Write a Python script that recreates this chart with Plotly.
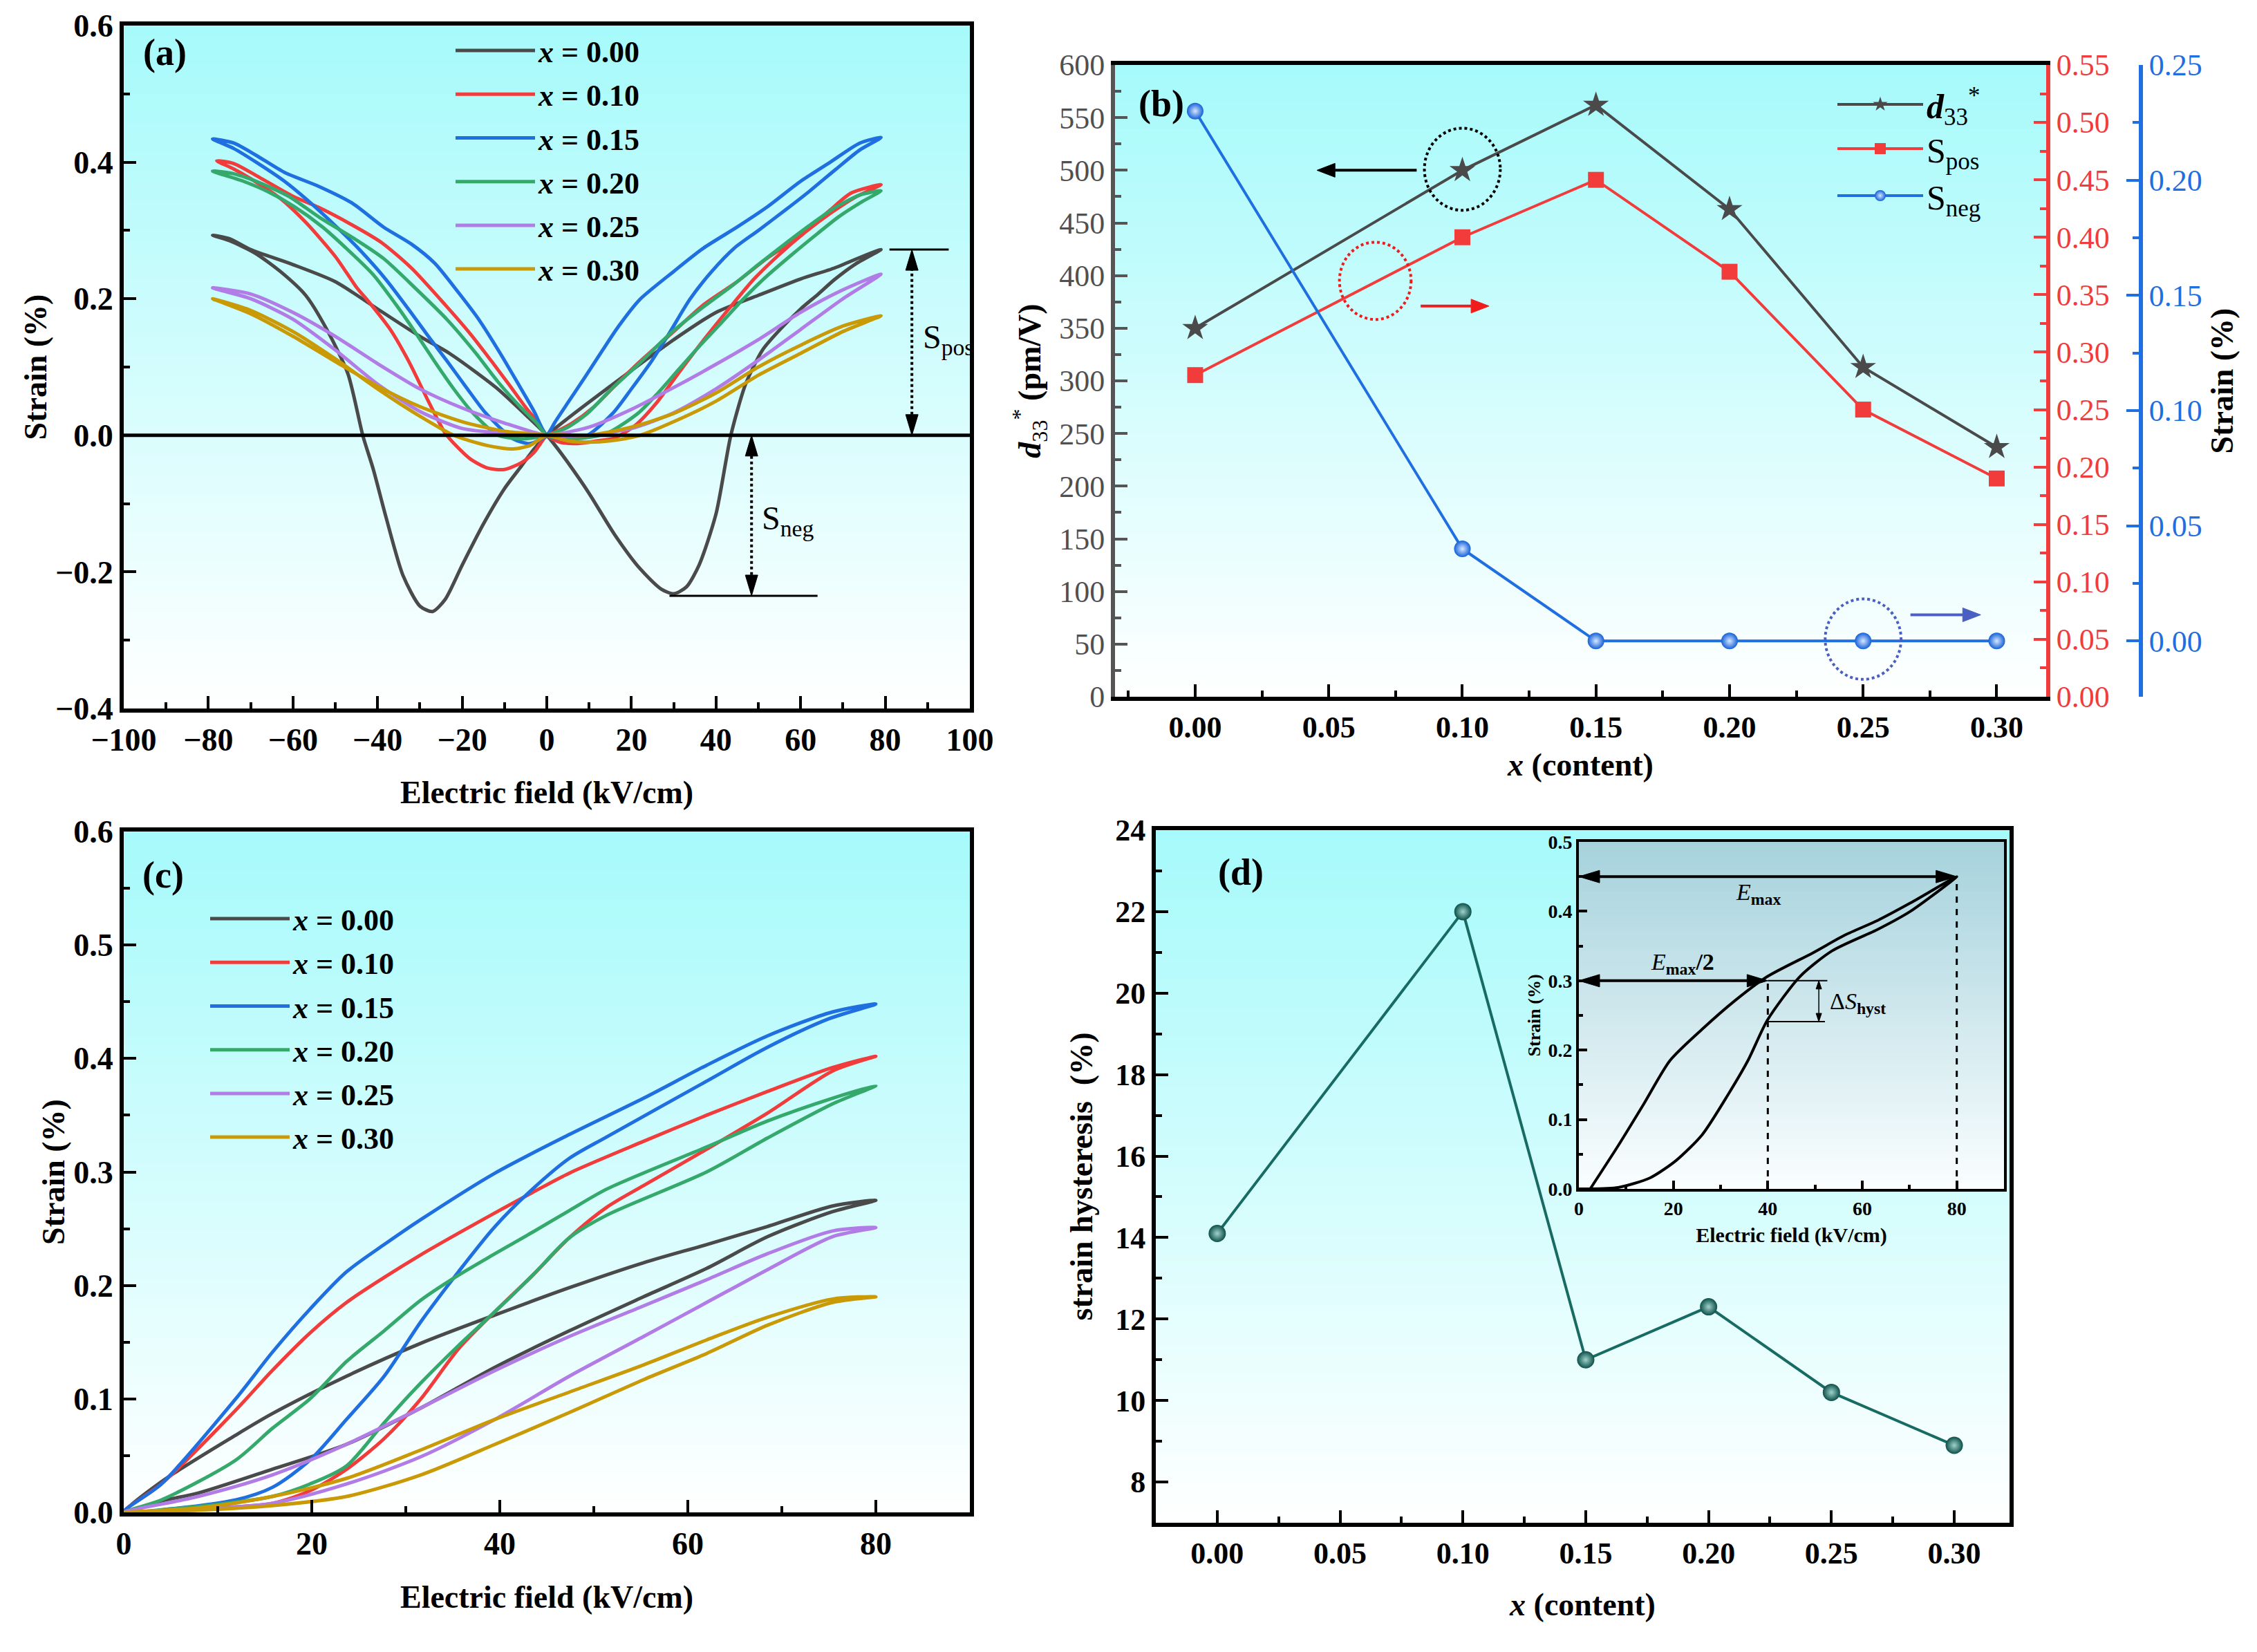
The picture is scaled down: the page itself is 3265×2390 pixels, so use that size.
import math
import plotly.graph_objects as go

W, H = 3265, 2390
FONT = "Liberation Serif"

# ---------------- data ----------------
NAMES = ["<i>x</i> = 0.00", "<i>x</i> = 0.10", "<i>x</i> = 0.15",
         "<i>x</i> = 0.20", "<i>x</i> = 0.25", "<i>x</i> = 0.30"]
COLORS = ["#4a4a4a", "#f23c3c", "#1f6fe0", "#35a96b", "#b27ce6", "#c99a06"]

# (a) bipolar butterfly loops: 0 -> +80 -> 0 -> -80 -> 0
E_A_000 = [0, 2, 5, 10, 16, 22, 27, 30, 33, 36, 40, 43.5, 47, 51, 55, 60, 64, 68, 73, 79,
           75, 68, 60, 50, 40, 30, 20, 12, 5, 0,
           -3, -6, -10, -15, -20, -24, -27, -30, -34, -38, -41, -43.5, -47, -52, -57, -63, -69, -75, -79,
           -75, -70, -60, -50, -40, -30, -23, -12, -5, 0]
S_A_000 = [0, -0.015, -0.04, -0.085, -0.145, -0.195, -0.225, -0.232, -0.222, -0.19, -0.115, 0.0, 0.075, 0.125, 0.154, 0.185, 0.206, 0.228, 0.251, 0.272,
           0.263, 0.245, 0.229, 0.205, 0.18, 0.14, 0.095, 0.058, 0.025, 0.0,
           -0.02, -0.045, -0.078, -0.13, -0.19, -0.24, -0.258, -0.25, -0.205, -0.12, -0.05, 0.0, 0.09, 0.155, 0.205, 0.24, 0.267, 0.285, 0.293,
           0.288, 0.272, 0.25, 0.225, 0.185, 0.145, 0.12, 0.07, 0.03, 0.0]

E_A_010 = [0, 3, 7, 12, 16, 21, 26, 31, 37, 43, 49, 55, 61, 67, 73, 79,
           72, 67, 60, 52, 45, 37, 30, 22, 16, 11, 6, 2, 0,
           -3, -6, -10, -14, -18, -21, -24, -28, -32.6, -37, -42, -45, -50, -57, -63, -69, -74, -78,
           -74, -68, -60, -54, -46, -39, -32, -24, -18, -13, -9, -5, -2, 0]
S_A_010 = [0, -0.01, -0.012, -0.008, -0.004, 0.015, 0.048, 0.09, 0.139, 0.185, 0.229, 0.265, 0.297, 0.325, 0.349, 0.367,
           0.355, 0.33, 0.292, 0.259, 0.225, 0.191, 0.152, 0.108, 0.072, 0.041, 0.018, 0.005, 0,
           -0.025, -0.04, -0.05, -0.048, -0.035, -0.018, 0.003, 0.05, 0.108, 0.155, 0.195, 0.217, 0.262, 0.312, 0.347, 0.372, 0.39, 0.402,
           0.398, 0.378, 0.35, 0.334, 0.308, 0.282, 0.245, 0.191, 0.148, 0.108, 0.075, 0.041, 0.018, 0]

E_A_015 = [0, 3.6, 9.6, 15.7, 20, 24.7, 29, 33.8, 39, 44.3, 50, 56.4, 62, 68.4, 74, 79,
           74, 67, 60, 52, 45, 37, 30, 22, 17, 13, 9, 5, 2, 0,
           -4, -8, -14.5, -19, -23.5, -28, -32.6, -38, -44.6, -50, -56.7, -62, -68.7, -74, -79,
           -74, -68.7, -62, -53.7, -46, -38.6, -32, -26.5, -21, -16, -11, -7, -3, 0]
S_A_015 = [0, -0.005, 0, 0.033, 0.068, 0.108, 0.15, 0.199, 0.24, 0.274, 0.3, 0.33, 0.357, 0.39, 0.418, 0.436,
           0.428, 0.4, 0.372, 0.334, 0.305, 0.274, 0.24, 0.199, 0.16, 0.123, 0.085, 0.048, 0.02, 0,
           -0.012, -0.005, 0.033, 0.07, 0.108, 0.145, 0.184, 0.228, 0.274, 0.307, 0.345, 0.372, 0.4, 0.42, 0.434,
           0.428, 0.41, 0.385, 0.364, 0.34, 0.305, 0.28, 0.252, 0.21, 0.169, 0.12, 0.078, 0.035, 0]

E_A_020 = [0, 6.6, 14.2, 21.7, 26, 30.7, 36, 41.3, 46.5, 51.8, 58, 63.9, 69, 74.5, 79,
           74, 68, 62, 56, 50, 44, 37, 29, 22, 15, 9.6, 5, 0,
           -5.4, -11.5, -17.5, -22, -26.5, -31, -35.6, -41, -47.6, -53, -59.7, -66, -71.7, -79,
           -74, -68.7, -61, -53.7, -46, -38.6, -31, -23.5, -17, -11.5, -6, -2.4, 0]
S_A_020 = [0, -0.005, 0.003, 0.033, 0.06, 0.093, 0.13, 0.165, 0.2, 0.232, 0.265, 0.295, 0.32, 0.342, 0.358,
           0.352, 0.333, 0.307, 0.279, 0.25, 0.22, 0.188, 0.148, 0.106, 0.066, 0.032, 0.012, 0,
           -0.005, 0, 0.033, 0.068, 0.108, 0.15, 0.191, 0.235, 0.275, 0.305, 0.335, 0.357, 0.372, 0.387,
           0.383, 0.372, 0.35, 0.319, 0.29, 0.259, 0.215, 0.169, 0.122, 0.078, 0.04, 0.018, 0]

E_A_025 = [0, 10, 20, 30, 40, 50, 60, 70, 79,
           70, 60, 50, 40, 30, 20, 10, 0,
           -10, -20, -30, -40, -50, -60, -70, -79,
           -70, -60, -50, -40, -30, -20, -10, 0]
S_A_025 = [0, 0.0, 0.01, 0.033, 0.068, 0.11, 0.155, 0.2, 0.236,
           0.213, 0.18, 0.14, 0.104, 0.07, 0.038, 0.012, 0,
           0.003, 0.01, 0.035, 0.075, 0.125, 0.17, 0.2, 0.216,
           0.207, 0.18, 0.145, 0.105, 0.068, 0.04, 0.018, 0]

E_A_030 = [0, 5, 10, 15, 22, 30, 40, 50, 60, 70, 79,
           70, 60, 50, 40, 30, 20, 10, 0,
           -4, -8, -14, -22, -30, -40, -50, -60, -70, -79,
           -70, -60, -50, -40, -30, -20, -10, 0]
S_A_030 = [0, -0.008, -0.01, -0.008, 0.0, 0.02, 0.05, 0.088, 0.12, 0.152, 0.175,
           0.16, 0.132, 0.1, 0.062, 0.032, 0.012, 0.0, 0,
           -0.015, -0.02, -0.015, 0.0, 0.028, 0.068, 0.112, 0.152, 0.183, 0.2,
           0.178, 0.145, 0.108, 0.072, 0.042, 0.02, 0.006, 0]

# (c) unipolar loops: 0 -> 80 -> 0
E_C_000 = [0, 4, 7.9, 15.8, 23.7, 31.6, 39.5, 47.4, 55.3, 62, 68.5, 75.4, 80,
           75.4, 68.5, 62, 55.3, 47.4, 39.5, 31.6, 23.7, 15.8, 11.9, 4, 0]
S_C_000 = [0, 0.01, 0.017, 0.038, 0.06, 0.092, 0.128, 0.16, 0.19, 0.215, 0.243, 0.265, 0.275,
           0.27, 0.252, 0.236, 0.22, 0.198, 0.174, 0.149, 0.12, 0.087, 0.068, 0.027, 0]
E_C_010 = [0, 5, 10, 15.8, 19.8, 23.7, 27.7, 31.6, 35.6, 39.5, 43.5, 47.4, 51.4, 55.3, 62, 68.5, 75.4, 80,
           75.4, 68.5, 62, 55.3, 47.4, 43.5, 39.5, 35.6, 31.6, 27.7, 23.7, 19.8, 15.8, 11.9, 4, 0]
S_C_010 = [0, 0.002, 0.004, 0.008, 0.019, 0.038, 0.065, 0.1, 0.144, 0.177, 0.209, 0.242, 0.269, 0.288, 0.32, 0.352, 0.389, 0.402,
           0.392, 0.371, 0.35, 0.327, 0.299, 0.282, 0.264, 0.246, 0.227, 0.207, 0.185, 0.158, 0.125, 0.09, 0.025, 0]
E_C_015 = [0, 5, 11.9, 15.8, 19.8, 23.7, 27.7, 31.6, 35.6, 39.5, 43.5, 47.4, 51.4, 62, 68.5, 75, 80,
           75.4, 68.5, 62, 55.3, 47.4, 39.5, 31.6, 27.7, 23.7, 19.8, 15.8, 11.9, 4, 0]
S_C_015 = [0, 0.003, 0.011, 0.022, 0.046, 0.082, 0.12, 0.168, 0.212, 0.252, 0.285, 0.312, 0.331, 0.38, 0.41, 0.435, 0.448,
           0.441, 0.42, 0.394, 0.365, 0.333, 0.299, 0.258, 0.236, 0.212, 0.179, 0.141, 0.1, 0.025, 0]
E_C_020 = [0, 5, 10, 15.8, 19.8, 23.7, 27.7, 31.6, 35.6, 39.5, 43.5, 47.4, 51.4, 62, 68.5, 75.4, 80,
           75.4, 68.5, 62, 51.4, 47.4, 43.5, 39.5, 35.6, 31.6, 27.7, 23.7, 19.8, 15.8, 11.9, 4, 0]
S_C_020 = [0, 0.003, 0.007, 0.014, 0.025, 0.041, 0.079, 0.114, 0.147, 0.177, 0.209, 0.242, 0.262, 0.3, 0.33, 0.36, 0.376,
           0.365, 0.345, 0.322, 0.285, 0.266, 0.247, 0.228, 0.209, 0.187, 0.16, 0.133, 0.1, 0.074, 0.046, 0.011, 0]
E_C_025 = [0, 8, 15.8, 23.7, 31.6, 39.5, 47.4, 55.3, 62, 68.5, 75.4, 80,
           75.4, 68.5, 62, 55.3, 47.4, 39.5, 31.6, 23.7, 15.8, 7.9, 0]
S_C_025 = [0, 0.003, 0.008, 0.025, 0.049, 0.082, 0.12, 0.155, 0.185, 0.214, 0.243, 0.251,
           0.248, 0.228, 0.205, 0.182, 0.155, 0.125, 0.092, 0.06, 0.033, 0.014, 0]
E_C_030 = [0, 8, 15.8, 23.7, 31.6, 39.5, 47.4, 55.3, 62, 68.5, 75.4, 80,
           75.4, 68.5, 62, 55.3, 47.4, 39.5, 31.6, 23.7, 15.8, 8, 0]
S_C_030 = [0, 0.002, 0.006, 0.014, 0.033, 0.06, 0.088, 0.117, 0.14, 0.165, 0.185, 0.19,
           0.188, 0.172, 0.152, 0.13, 0.106, 0.082, 0.055, 0.03, 0.014, 0.004, 0]

# (b) composition dependence
X_CONTENT = [0.00, 0.10, 0.15, 0.20, 0.25, 0.30]
D33 = [350, 500, 562, 463, 313, 237]
S_POS = [0.28, 0.40, 0.45, 0.37, 0.25, 0.19]
S_NEG = [0.23, 0.04, 0.0, 0.0, 0.0, 0.0]

# (d) strain hysteresis
HYST = [14.1, 22.0, 11.0, 12.3, 10.2, 8.9]

# (d) inset schematic loop
E_INSET = [0, 1.4, 8.3, 15.1, 20.6, 26.1, 31.6, 35.8, 39.9, 46.8, 53.6, 63.3, 70.2, 80,
           70.2, 63.3, 56.4, 49.5, 39.9, 33, 26.1, 19.3, 13.8, 8.3, 2.4]
S_INSET = [0, 0, 0.002, 0.016, 0.041, 0.078, 0.136, 0.185, 0.243, 0.306, 0.343, 0.374, 0.4, 0.45,
           0.412, 0.387, 0.366, 0.34, 0.306, 0.271, 0.23, 0.185, 0.123, 0.062, 0]

A_E = [E_A_000, E_A_010, E_A_015, E_A_020, E_A_025, E_A_030]
A_S = [S_A_000, S_A_010, S_A_015, S_A_020, S_A_025, S_A_030]
C_E = [E_C_000, E_C_010, E_C_015, E_C_020, E_C_025, E_C_030]
C_S = [S_C_000, S_C_010, S_C_015, S_C_020, S_C_025, S_C_030]

# ---------------- layout geometry (pixels) ----------------
A_PX, A_PY = (179, 1403), (37, 1025)
B_PX, B_PY = (1613, 2960), (94, 1008)
B_BLUE_PX = 3097
C_PX, C_PY = (179, 1403), (1203, 2188)
D_PX, D_PY = (1672, 2907), (1201, 2203)
I_PX, I_PY = (2284, 2899), (1218, 1720)

A_XR, A_YR = [-100, 100], [-0.4, 0.6]
B_XR, B_YR = [-0.03, 0.3185], [0, 600]
C_XR, C_YR = [0, 90], [0, 0.6]
D_XR, D_YR = [-0.025, 0.3225], [7, 24]
I_XR, I_YR = [0, 90], [0, 0.5]


def dx(p):
    return [p[0] / W, p[1] / W]


def dy(p):
    return [1 - p[1] / H, 1 - p[0] / H]


# pixel scale of each subplot (px per data unit) for drawing arrow heads
SCALE = {
    ("x", "y"): ((A_PX[1] - A_PX[0]) / (A_XR[1] - A_XR[0]), (A_PY[1] - A_PY[0]) / (A_YR[1] - A_YR[0])),
    ("x2", "y2"): ((B_PX[1] - B_PX[0]) / (B_XR[1] - B_XR[0]), (B_PY[1] - B_PY[0]) / (B_YR[1] - B_YR[0])),
    ("x5", "y7"): ((I_PX[1] - I_PX[0]) / (I_XR[1] - I_XR[0]), (I_PY[1] - I_PY[0]) / (I_YR[1] - I_YR[0])),
}

fig = go.Figure()

for i in range(6):
    fig.add_trace(go.Scatter(x=A_E[i], y=A_S[i], mode="lines", name=NAMES[i],
                             line=dict(color=COLORS[i], width=5, shape="spline", smoothing=0.7),
                             xaxis="x", yaxis="y", legend="legend", legendgroup="a%d" % i))
for i in range(6):
    fig.add_trace(go.Scatter(x=C_E[i], y=C_S[i], mode="lines", name=NAMES[i],
                             line=dict(color=COLORS[i], width=5, shape="spline", smoothing=0.8),
                             xaxis="x3", yaxis="y5", legend="legend3", legendgroup="c%d" % i))

# (b)
fig.add_trace(go.Scatter(x=X_CONTENT, y=S_NEG, mode="lines+markers",
                         name="S<sub>neg</sub>", legendrank=3,
                         line=dict(color="#1f6fe0", width=4),
                         marker=dict(symbol="circle", size=24, color="#1560d8",
                                     gradient=dict(type="radial", color="#d6e8ff"),
                                     line=dict(width=0)),
                         xaxis="x2", yaxis="y4", legend="legend4", legendgroup="b3"))
fig.add_trace(go.Scatter(x=X_CONTENT, y=S_POS, mode="lines+markers",
                         name="S<sub>pos</sub>", legendrank=2,
                         line=dict(color="#f23c3c", width=4),
                         marker=dict(symbol="square", size=23, color="#f23c3c", line=dict(width=0)),
                         xaxis="x2", yaxis="y3", legend="legend4", legendgroup="b2"))
fig.add_trace(go.Scatter(x=X_CONTENT, y=D33, mode="lines+markers",
                         name="<b><i>d</i></b><sub>33</sub><sup>*</sup>", legendrank=1,
                         line=dict(color="#4a4a4a", width=4),
                         marker=dict(symbol="star", size=28, color="#4a4a4a", line=dict(width=0)),
                         xaxis="x2", yaxis="y2", legend="legend2", legendgroup="b1"))

# (d)
fig.add_trace(go.Scatter(x=X_CONTENT, y=HYST, mode="lines+markers", name="strain hysteresis",
                         line=dict(color="#176b63", width=4),
                         marker=dict(symbol="circle", size=25, color="#0c4f49",
                                     gradient=dict(type="radial", color="#9fd3cb"),
                                     line=dict(width=0)),
                         xaxis="x4", yaxis="y6", showlegend=False))
# inset
fig.add_trace(go.Scatter(x=E_INSET, y=S_INSET, mode="lines", name="schematic",
                         line=dict(color="black", width=4, shape="spline", smoothing=0.7),
                         xaxis="x5", yaxis="y7", showlegend=False))


def tfont(size=44, color="black", bold=True):
    return dict(family=FONT, size=size, color=color, weight="bold" if bold else "normal")


def axis(domain, rng, dtick, minor_dtick, anchor, fmt=None, size=46, color="black",
         linecolor="black", lw=6, mirror=True, bold=True, ticklen=18, **kw):
    d = dict(domain=domain, range=rng, dtick=dtick, tick0=0, anchor=anchor, automargin=False,
             showline=True, linecolor=linecolor, linewidth=lw, mirror=mirror,
             ticks="inside", ticklen=ticklen, tickwidth=4, tickcolor=linecolor,
             showgrid=False, zeroline=False, tickfont=tfont(size, color, bold),
             minor=dict(ticks="inside", ticklen=ticklen // 2, tickwidth=4, tickcolor=linecolor,
                        dtick=minor_dtick, tick0=0, showgrid=False))
    if fmt:
        d["tickformat"] = fmt
    d.update(kw)
    return d


def title(text, size=46, standoff=10):
    return dict(text=text, font=dict(family=FONT, size=size, color="black"), standoff=standoff)


def legend_box(xp, yp, size, bold, itemwidth, gap=3):
    return dict(x=xp / W, y=1 - yp / H, xanchor="left", yanchor="top",
                bgcolor="rgba(0,0,0,0)", borderwidth=0, font=tfont(size, bold=bold),
                itemwidth=itemwidth, tracegroupgap=gap, traceorder="grouped")


fig.update_layout(
    width=W, height=H, margin=dict(l=0, r=0, t=0, b=0, autoexpand=False),
    paper_bgcolor="white", plot_bgcolor="rgba(0,0,0,0)",
    font=dict(family=FONT, color="black"),
    # (a)
    xaxis=axis(dx(A_PX), A_XR, 20, 10, "y",
               title=title("<b>Electric field (kV/cm)</b>", standoff=37)),
    yaxis=axis(dy(A_PY), A_YR, 0.2, 0.1, "x", fmt=".1f",
               title=title("<b>Strain (%)</b>", standoff=0)),
    # (b)
    xaxis2=axis(dx(B_PX), B_XR, 0.05, 0.025, "y2", fmt=".2f", size=44,
                title=title("<b><i>x</i> (content)</b>", standoff=16)),
    yaxis2=axis(dy(B_PY), B_YR, 50, 25, "x2", size=44, color="#505050", linecolor="#555555",
                lw=6, mirror=False, bold=False,
                title=title("<b><i>d</i></b><sub>33</sub><sup>*</sup><b> (pm/V)</b>", standoff=14)),
    yaxis3=axis(dy(B_PY), [0, 0.55], 0.05, 0.025, "x2", fmt=".2f", size=44, color="#f03c3c",
                linecolor="#f03c3c", lw=6, mirror=False, bold=False,
                overlaying="y2", side="right"),
    yaxis4=axis(dy(B_PY), [-0.0242, 0.25], 0.05, 0.025, "free", fmt=".2f", size=44, color="#1f6fe0",
                linecolor="#1f6fe0", lw=6, mirror=False, bold=False,
                overlaying="y2", side="right", position=B_BLUE_PX / W,
                title=title("<b>Strain (%)</b>", standoff=12)),
    # (c)
    xaxis3=axis(dx(C_PX), C_XR, 20, 10, "y5",
                title=title("<b>Electric field (kV/cm)</b>", standoff=38)),
    yaxis5=axis(dy(C_PY), C_YR, 0.1, 0.05, "x3", fmt=".1f",
                title=title("<b>Strain (%)</b>", standoff=0)),
    # (d)
    xaxis4=axis(dx(D_PX), D_XR, 0.05, 0.025, "y6", fmt=".2f", size=44,
                title=title("<b><i>x</i> (content)</b>", standoff=36)),
    yaxis6=axis(dy(D_PY), D_YR, 2, 1, "x4", size=44,
                title=title("<b>strain hysteresis  (%)</b>", standoff=20)),
    # inset
    xaxis5=axis(dx(I_PX), I_XR, 20, 10, "y7", size=28, lw=4, ticklen=12,
                title=title("<b>Electric field (kV/cm)</b>", size=30, standoff=14)),
    yaxis7=axis(dy(I_PY), I_YR, 0.1, 0.05, "x5", fmt=".1f", size=28, lw=4, ticklen=12,
                title=title("<b>Strain (%)</b>", size=26, standoff=4)),
    legend=legend_box(654, 38, 44, True, 115),
    legend2=legend_box(2653, 112, 50, False, 124, gap=0),
    legend4=legend_box(2653, 176, 50, False, 124, gap=0),
    legend3=legend_box(299, 1294, 44, True, 115),
)

# ---------------- gradient backgrounds ----------------
shapes = []


def gradient(xref, yref, xr, yr, top, bottom, n=70):
    span = yr[1] - yr[0]
    for k in range(n):
        t0, t1 = k / n, (k + 1) / n
        tm = (t0 + t1) / 2
        c = tuple(round(top[j] + (bottom[j] - top[j]) * tm) for j in range(3))
        shapes.append(dict(type="rect", xref=xref, yref=yref, x0=xr[0], x1=xr[1],
                           y1=yr[1] - span * t0, y0=yr[1] - span * t1 - span * 0.004,
                           fillcolor="rgb(%d,%d,%d)" % c, line=dict(width=0), layer="below"))


CYAN = (166, 250, 251)
WHITE = (255, 255, 255)
gradient("x", "y", A_XR, A_YR, CYAN, WHITE)
gradient("x2", "y2", B_XR, B_YR, CYAN, WHITE)
gradient("x3", "y5", C_XR, C_YR, CYAN, WHITE)
gradient("x4", "y6", D_XR, D_YR, CYAN, WHITE)
gradient("x5", "y7", I_XR, I_YR, (166, 210, 220), (250, 254, 255))


def line(xref, yref, x0, y0, x1, y1, color="black", width=3, dash=None, layer="above"):
    ln = dict(color=color, width=width)
    if dash:
        ln["dash"] = dash
    shapes.append(dict(type="line", xref=xref, yref=yref, x0=x0, y0=y0, x1=x1, y1=y1,
                       line=ln, layer=layer))


def head(xref, yref, tip, frm, length, half_w, color):
    sx, sy = SCALE[(xref, yref)]
    px = (tip[0] - frm[0]) * sx
    py = (tip[1] - frm[1]) * sy
    L = math.hypot(px, py)
    ux, uy = px / L, py / L
    bx, by = -ux * length, -uy * length
    p1 = (tip[0] + (bx - uy * half_w) / sx, tip[1] + (by + ux * half_w) / sy)
    p2 = (tip[0] + (bx + uy * half_w) / sx, tip[1] + (by - ux * half_w) / sy)
    shapes.append(dict(type="path", xref=xref, yref=yref,
                       path="M %.6f,%.6f L %.6f,%.6f L %.6f,%.6f Z" % (tip[0], tip[1], p1[0], p1[1], p2[0], p2[1]),
                       fillcolor=color, line=dict(color=color, width=1), layer="above"))
    return (tip[0] + bx / sx, tip[1] + by / sy)


def arrow(xref, yref, start, end, color="black", width=4, length=28, half_w=10,
          dash=None, both=False):
    e = head(xref, yref, end, start, length, half_w, color)
    s = head(xref, yref, start, end, length, half_w, color) if both else start
    line(xref, yref, s[0], s[1], e[0], e[1], color=color, width=width, dash=dash)


# (a) decorations
line("x domain", "y", 0, 0, 1, 0, width=5)
line("x", "y", 81, 0.272, 95, 0.272, width=3)
line("x", "y", 29, -0.235, 64, -0.235, width=3)
arrow("x", "y", (86.3, 0.0), (86.3, 0.272), width=4, length=30, half_w=9, dash="dot", both=True)
arrow("x", "y", (48.4, 0.0), (48.4, -0.235), width=4, length=30, half_w=9, dash="dot", both=True)
# (b) decorations
shapes.append(dict(type="circle", xref="x2", yref="y2", x0=0.1 - 0.0142, x1=0.1 + 0.0142,
                   y0=501 - 39, y1=501 + 39, line=dict(color="black", width=4, dash="dot")))
shapes.append(dict(type="circle", xref="x2", yref="y2", x0=0.0674 - 0.0134, x1=0.0674 + 0.0134,
                   y0=395 - 36.7, y1=395 + 36.7, line=dict(color="#f01c1c", width=4, dash="dot")))
shapes.append(dict(type="circle", xref="x2", yref="y2", x0=0.25 - 0.0142, x1=0.25 + 0.0142,
                   y0=54.7 - 38.2, y1=54.7 + 38.2, line=dict(color="#4a5fc1", width=4, dash="dot")))
arrow("x2", "y2", (0.0829, 500), (0.0456, 500), width=4, length=26, half_w=10)
arrow("x2", "y2", (0.0844, 371), (0.110, 371), color="#f01c1c", width=4, length=26, half_w=10)
arrow("x2", "y2", (0.2677, 77.8), (0.294, 77.8), color="#4a5fc1", width=4, length=26, half_w=10)
# inset decorations
line("x5", "y7", 40, 0, 40, 0.3, width=3, dash="dash")
line("x5", "y7", 80, 0, 80, 0.45, width=3, dash="dash")
line("x5", "y7", 40, 0.3, 52.6, 0.3, width=2)
line("x5", "y7", 40, 0.241, 52.1, 0.241, width=2)
arrow("x5", "y7", (0, 0.45), (80, 0.45), width=4, length=30, half_w=9, both=True)
arrow("x5", "y7", (0, 0.3), (40, 0.3), width=4, length=30, half_w=9, both=True)
arrow("x5", "y7", (50.8, 0.241), (50.8, 0.3), width=1.5, length=12, half_w=4, both=True)

fig.update_layout(shapes=shapes)

# ---------------- annotations ----------------
ann = []


def label(text, xp, yp, size=54):
    ann.append(dict(text=text, x=xp / W, y=1 - yp / H, xref="paper", yref="paper",
                    showarrow=False, xanchor="center", yanchor="middle",
                    font=dict(family=FONT, size=size, color="black", weight="bold")))


label("(a)", 238, 76)
label("(b)", 1680, 150)
label("(c)", 236, 1266)
label("(d)", 1795, 1262)


def text(t, x, y, xref, yref, size=46, anchor="left", bold=False):
    ann.append(dict(text=t, x=x, y=y, xref=xref, yref=yref, showarrow=False,
                    xanchor=anchor, yanchor="middle",
                    font=dict(family=FONT, size=size, color="black",
                              weight="bold" if bold else "normal")))


text("S<sub>pos</sub>", 88.5, 0.14, "x", "y", size=48)
text("S<sub>neg</sub>", 50.5, -0.125, "x", "y", size=48)
text("<i>E</i><b><sub>max</sub></b>", 38, 0.425, "x5", "y7", size=34, anchor="center")
text("<i>E</i><b><sub>max</sub>/2</b>", 22, 0.325, "x5", "y7", size=34, anchor="center")
text("Δ<i>S</i><b><sub>hyst</sub></b>", 52.8, 0.268, "x5", "y7", size=34)

fig.update_layout(annotations=ann)

fig.write_html("out.html")
